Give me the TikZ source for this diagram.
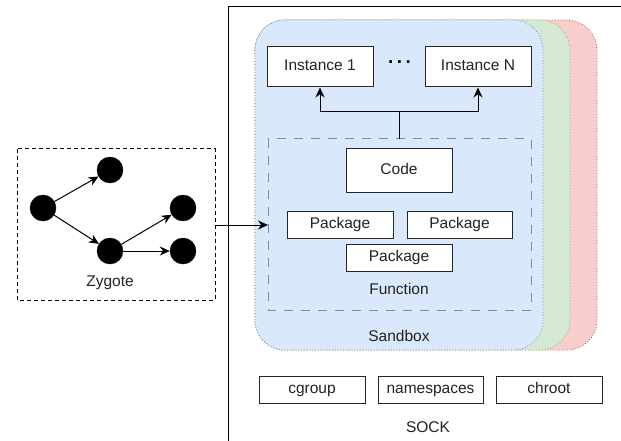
\documentclass[tikz,border=0pt]{standalone}
\usepackage{fontspec}
\setmainfont{Liberation Sans}
\usetikzlibrary{arrows.meta}
\definecolor{sbBlue}{HTML}{DAE8FC}
\definecolor{sbBlueLine}{HTML}{6C8EBF}
\definecolor{sbGreen}{HTML}{D5E8D4}
\definecolor{sbGreenLine}{HTML}{82B366}
\definecolor{sbRed}{HTML}{F8CECC}
\definecolor{sbRedLine}{HTML}{B85450}
\definecolor{txt}{HTML}{222222}
\tikzset{
  box/.style={draw=black!85, fill=white, line width=1pt, inner sep=0pt, font=\fontsize{15.5}{18}\selectfont, text=txt, text height=11pt, text depth=3pt},
  lbl/.style={inner sep=0pt, font=\fontsize{15.5}{18}\selectfont, text=txt, text height=11pt, text depth=3pt},
  sandbox/.style={line width=0.8pt, dotted, rounded corners=30pt},
  dot/.style={circle, fill=black, draw=black, minimum size=26pt, inner sep=0pt},
  arr/.style={-{Stealth[length=10pt,width=9pt]}, line width=1pt},
}
\begin{document}
\begin{tikzpicture}[x=1pt, y=-1pt]
  \useasboundingbox (0,0) rectangle (621,441);
  \clip (0,0) rectangle (621,441);
  \fill[white] (0,0) rectangle (621,441);

  % outer SOCK container
  \draw[line width=1pt] (228,450) -- (228,7) -- (630,7);
  \node[lbl] (sock) at (428,428) {SOCK};

  % stacked sandboxes
  \draw[sandbox, fill=sbRed, draw=sbRedLine] (255,20) rectangle (597,350);
  \draw[sandbox, fill=sbGreen, draw=sbGreenLine] (255,20) rectangle (570,350);
  \draw[sandbox, fill=sbBlue, draw=sbBlueLine] (255,20) rectangle (543,350);
  \node[lbl] (sblabel) at (399,337) {Sandbox};

  % instances
  \node[box, minimum width=106pt, minimum height=40pt] (inst1) at (320,67) {Instance 1};
  \node[box, minimum width=106pt, minimum height=40pt] (instN) at (478,67) {Instance N};
  \node[inner sep=0pt, font=\fontsize{19}{19}\selectfont\bfseries] (dots) at (399.5,62) {.\hspace{3.5pt}.\hspace{3.5pt}.};

  % function
  \draw[sbBlueLine, line width=1pt, dash pattern=on 9pt off 8pt] (268,139) rectangle (531,310);
  \coordinate (fn) at (399.5,139);
  \coordinate (fnleft) at (268,225);
  \node[box, minimum width=106pt, minimum height=43pt] (code) at (399,170.5) {Code};
  \node[box, minimum width=106pt, minimum height=27pt] (pkg1) at (340,224.5) {Package};
  \node[box, minimum width=105pt, minimum height=27pt] (pkg2) at (459.5,224.5) {Package};
  \node[box, minimum width=106pt, minimum height=27pt] (pkg3) at (399,257.5) {Package};
  \node[lbl] (fnlabel) at (399,290) {Function};

  % fork to instances
  \coordinate (fork) at (399.5,112);
  \draw[line width=1pt] (fn) -- (fork);
  \draw[arr] (fork) -| (inst1.south);
  \draw[arr] (fork) -| (instN.south);

  % isolation primitives
  \node[box, minimum width=106pt, minimum height=27pt] (cg) at (312,389.5) {cgroup};
  \node[box, minimum width=105pt, minimum height=27pt] (ns) at (430.5,389.5) {namespaces};
  \node[box, minimum width=106pt, minimum height=27pt] (ch) at (549,389.5) {chroot};

  % zygote tree
  \draw[line width=1pt, dash pattern=on 4pt off 3pt] (17,149) rectangle (215,300);
  \node[dot] (z0) at (43,208) {};
  \node[dot] (z1) at (110,170) {};
  \node[dot] (z2) at (110,251) {};
  \node[dot] (z3) at (183,208) {};
  \node[dot] (z4) at (183,251) {};
  \node[lbl] (zlabel) at (110,282) {Zygote};
  \draw[arr] (z0) -- (z1);
  \draw[arr] (z0) -- (z2);
  \draw[arr] (z2) -- (z3);
  \draw[arr] (z2) -- (z4);

  % zygote forks into the function
  \coordinate (zright) at (215,225);
  \draw[arr] (zright) -- (fnleft);
\end{tikzpicture}
\end{document}
